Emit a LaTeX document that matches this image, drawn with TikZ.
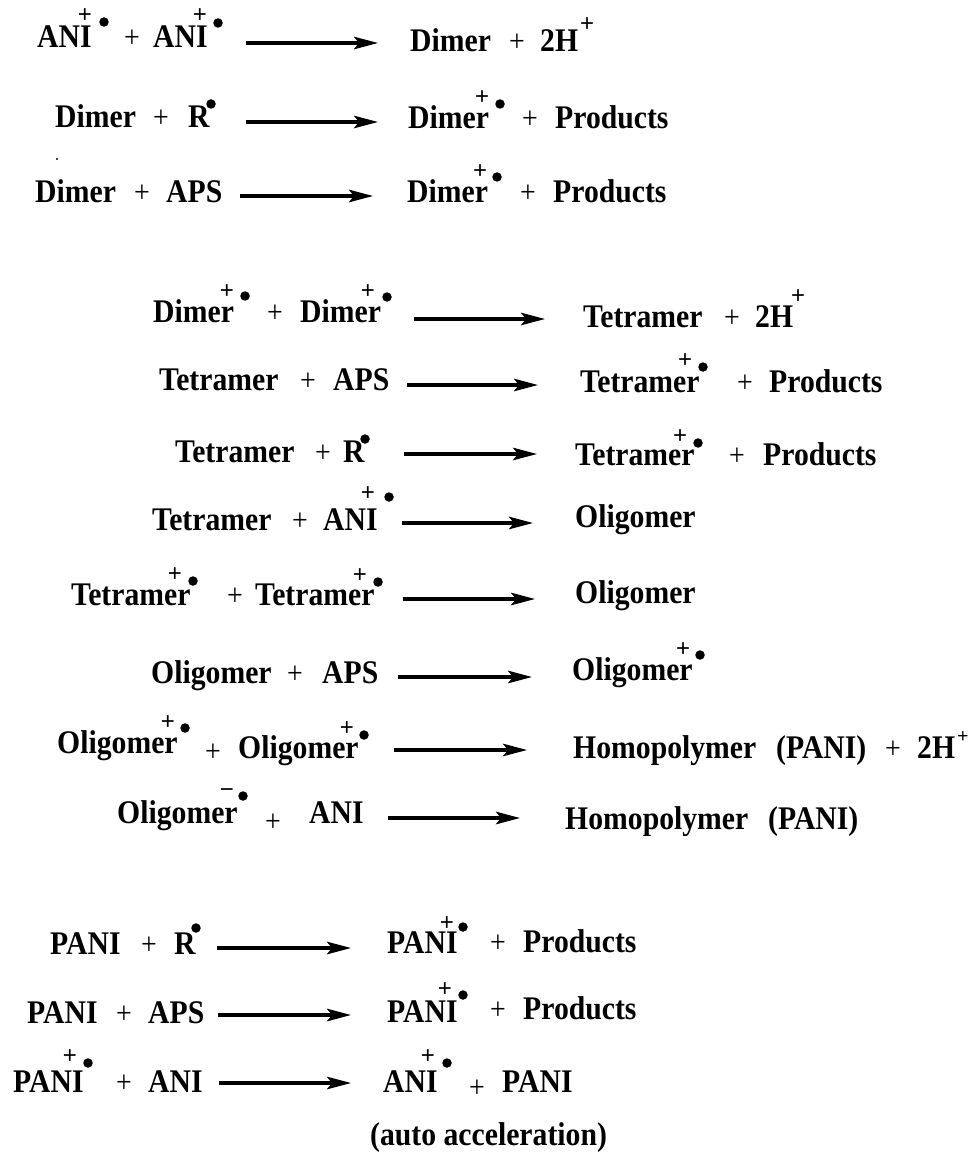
\documentclass[tikz,border=0pt]{standalone}
\usepackage{fontspec}
\setmainfont{Liberation Serif}[FakeStretch=0.9]
\newfontfamily\supfont{Liberation Sans}
\usetikzlibrary{arrows.meta}

\tikzset{
  chem/.style={anchor=base west, inner sep=0pt, font=\fontsize{33}{38}\selectfont\bfseries},
  op/.style={anchor=base, inner sep=0pt, font=\fontsize{31}{36}\selectfont},
  chg/.style={inner sep=0pt, font=\supfont\fontsize{24}{28}\selectfont},
  rad/.style={circle, fill=black, inner sep=0pt, minimum size=9.5pt},
  rxn/.style={line width=3.1pt, -{Stealth[length=24pt,width=12.5pt,inset=5pt]}}
}

\begin{document}
\begin{tikzpicture}[x=1pt, y=-1pt]
\useasboundingbox (0,0) rectangle (971,1155);

% ---- ANI+. + ANI+. -> Dimer + 2H+
\node[chem] (a1) at (37,48) {ANI};
\node[chg] (a1c) at (85,16) {+};
\node[rad] (a1d) at (104,22) {};
\node[op] (a1p) at (132,48) {+};
\node[chem] (a2) at (153,48) {ANI};
\node[chg] (a2c) at (200,16) {+};
\node[rad] (a2d) at (218,23) {};
\coordinate (s1) at (246,43); \coordinate (e1) at (378,43);
\draw[rxn] (s1) -- (e1);
\node[chem] (b1) at (410,52) {Dimer};
\node[op] (b1p) at (517,52) {+};
\node[chem] (b2) at (540,52) {2H};
\node[chg] (b2c) at (587,25) {+};

% ---- Dimer + R. -> Dimer+. + Products
\node[chem] (c1) at (55,128) {Dimer};
\node[op] (c1p) at (161,128) {+};
\node[chem] (c2) at (188,128) {R};
\node[rad] (c2d) at (211,104) {};
\coordinate (s2) at (246,122); \coordinate (e2) at (378,122);
\draw[rxn] (s2) -- (e2);
\node[chem] (d1) at (408,129) {Dimer};
\node[chg] (d1c) at (482,98) {+};
\node[rad] (d1d) at (500,104) {};
\node[op] (d1p) at (530,129) {+};
\node[chem] (d2) at (555,129) {Products};

% ---- Dimer + APS -> Dimer+. + Products
\fill (57,159) circle (1.2);
\node[chem] (e1n) at (35,203) {Dimer};
\node[op] (e1p) at (142,203) {+};
\node[chem] (e2n) at (166,203) {APS};
\coordinate (s3) at (240,196); \coordinate (e3) at (373,196);
\draw[rxn] (s3) -- (e3);
\node[chem] (f1) at (407,203) {Dimer};
\node[chg] (f1c) at (480,172) {+};
\node[rad] (f1d) at (497,177) {};
\node[op] (f1p) at (528,203) {+};
\node[chem] (f2) at (553,203) {Products};

% ---- Dimer+. + Dimer+. -> Tetramer + 2H+
\node[chem] (g1) at (153,322) {Dimer};
\node[chg] (g1c) at (227,292) {+};
\node[rad] (g1d) at (245,296) {};
\node[op] (g1p) at (275,322) {+};
\node[chem] (g2) at (300,322) {Dimer};
\node[chg] (g2c) at (368,292) {+};
\node[rad] (g2d) at (387,297) {};
\coordinate (s4) at (414,319); \coordinate (e4) at (545,319);
\draw[rxn] (s4) -- (e4);
\node[chem] (h1) at (583,327) {Tetramer};
\node[op] (h1p) at (732,327) {+};
\node[chem] (h2) at (755,327) {2H};
\node[chg] (h2c) at (798,297) {+};

% ---- Tetramer + APS -> Tetramer+. + Products
\node[chem] (i1) at (159,390) {Tetramer};
\node[op] (i1p) at (308,390) {+};
\node[chem] (i2) at (333,390) {APS};
\coordinate (s5) at (407,385); \coordinate (e5) at (538,385);
\draw[rxn] (s5) -- (e5);
\node[chem] (j1) at (580,392) {Tetramer};
\node[chg] (j1c) at (685,361) {+};
\node[rad] (j1d) at (703,367) {};
\node[op] (j1p) at (745,392) {+};
\node[chem] (j2) at (769,392) {Products};

% ---- Tetramer + R. -> Tetramer+. + Products
\node[chem] (k1) at (175,462) {Tetramer};
\node[op] (k1p) at (323,462) {+};
\node[chem] (k2) at (343,462) {R};
\node[rad] (k2d) at (365,439) {};
\coordinate (s6) at (404,454); \coordinate (e6) at (537,454);
\draw[rxn] (s6) -- (e6);
\node[chem] (l1) at (575,465) {Tetramer};
\node[chg] (l1c) at (680,437) {+};
\node[rad] (l1d) at (698,443) {};
\node[op] (l1p) at (737,465) {+};
\node[chem] (l2) at (763,465) {Products};

% ---- Tetramer + ANI+. -> Oligomer
\node[chem] (m1) at (152,530) {Tetramer};
\node[op] (m1p) at (300,530) {+};
\node[chem] (m2) at (323,530) {ANI};
\node[chg] (m2c) at (368,494) {+};
\node[rad] (m2d) at (389,497) {};
\coordinate (s7) at (402,523); \coordinate (e7) at (533,523);
\draw[rxn] (s7) -- (e7);
\node[chem] (n1) at (575,527) {Oligomer};

% ---- Tetramer+. + Tetramer+. -> Oligomer
\node[chem] (o1) at (71,605) {Tetramer};
\node[chg] (o1c) at (175,575) {+};
\node[rad] (o1d) at (193,581) {};
\node[op] (o1p) at (235,605) {+};
\node[chem] (o2) at (255,605) {Tetramer};
\node[chg] (o2c) at (360,576) {+};
\node[rad] (o2d) at (378,582) {};
\coordinate (s8) at (403,599); \coordinate (e8) at (535,599);
\draw[rxn] (s8) -- (e8);
\node[chem] (p1) at (575,603) {Oligomer};

% ---- Oligomer + APS -> Oligomer+.
\node[chem] (q1) at (151,683) {Oligomer};
\node[op] (q1p) at (295,683) {+};
\node[chem] (q2) at (322,683) {APS};
\coordinate (s9) at (398,677); \coordinate (e9) at (532,677);
\draw[rxn] (s9) -- (e9);
\node[chem] (r1) at (572,680) {Oligomer};
\node[chg] (r1c) at (683,650) {+};
\node[rad] (r1d) at (700,655) {};

% ---- Oligomer+. + Oligomer+. -> Homopolymer (PANI) + 2H+
\node[chem] (t1) at (57,753) {Oligomer};
\node[chg] (t1c) at (168,723) {+};
\node[rad] (t1d) at (185,728) {};
\node[op] (t1p) at (213,761) {+};
\node[chem] (t2) at (238,758) {Oligomer};
\node[chg] (t2c) at (347,729) {+};
\node[rad] (t2d) at (364,735) {};
\coordinate (s10) at (394,750); \coordinate (e10) at (527,750);
\draw[rxn] (s10) -- (e10);
\node[chem] (u1) at (573,758) {Homopolymer};
\node[chem] (u2) at (776,758) {(PANI)};
\node[op] (u2p) at (893,758) {+};
\node[chem] (u3) at (917,758) {2H};
\node[chg, font=\supfont\fontsize{19}{23}\selectfont] (u3c) at (963,737) {+};

% ---- Oligomer-. + ANI -> Homopolymer (PANI)
\node[chem] (v1) at (117,823) {Oligomer};
\node[chg] (v1c) at (227,793) {−};
\node[rad] (v1d) at (243,796) {};
\node[op] (v1p) at (273,831) {+};
\node[chem] (v2) at (309,823) {ANI};
\coordinate (s11) at (388,818); \coordinate (e11) at (520,818);
\draw[rxn] (s11) -- (e11);
\node[chem] (w1) at (565,829) {Homopolymer};
\node[chem] (w2) at (768,829) {(PANI)};

% ---- PANI + R. -> PANI+. + Products
\node[chem] (x1) at (50,954) {PANI};
\node[op] (x1p) at (149,954) {+};
\node[chem] (x2) at (174,954) {R};
\node[rad] (x2d) at (196,928) {};
\coordinate (s12) at (217,948); \coordinate (e12) at (351,948);
\draw[rxn] (s12) -- (e12);
\node[chem] (y1) at (387,953) {PANI};
\node[chg] (y1c) at (447,924) {+};
\node[rad] (y1d) at (463,927) {};
\node[op] (y1p) at (498,952) {+};
\node[chem] (y2) at (523,952) {Products};

% ---- PANI + APS -> PANI+. + Products
\node[chem] (z1) at (27,1023) {PANI};
\node[op] (z1p) at (124,1023) {+};
\node[chem] (z2) at (148,1023) {APS};
\coordinate (s13) at (218,1015); \coordinate (e13) at (351,1015);
\draw[rxn] (s13) -- (e13);
\node[chem] (aa1) at (387,1022) {PANI};
\node[chg] (aa1c) at (445,990) {+};
\node[rad] (aa1d) at (463,995) {};
\node[op] (aa1p) at (498,1019) {+};
\node[chem] (aa2) at (523,1019) {Products};

% ---- PANI+. + ANI -> ANI+. + PANI
\node[chem] (bb1) at (13,1092) {PANI};
\node[chg] (bb1c) at (70,1057) {+};
\node[rad] (bb1d) at (88,1063) {};
\node[op] (bb1p) at (124,1092) {+};
\node[chem] (bb2) at (148,1092) {ANI};
\coordinate (s14) at (219,1083); \coordinate (e14) at (351,1083);
\draw[rxn] (s14) -- (e14);
\node[chem] (cc1) at (383,1092) {ANI};
\node[chg] (cc1c) at (428,1057) {+};
\node[rad] (cc1d) at (447,1063) {};
\node[op] (cc1p) at (477,1097) {+};
\node[chem] (cc2) at (502,1092) {PANI};

\node[chem] (note) at (370,1145) {(auto acceleration)};
\end{tikzpicture}
\end{document}
